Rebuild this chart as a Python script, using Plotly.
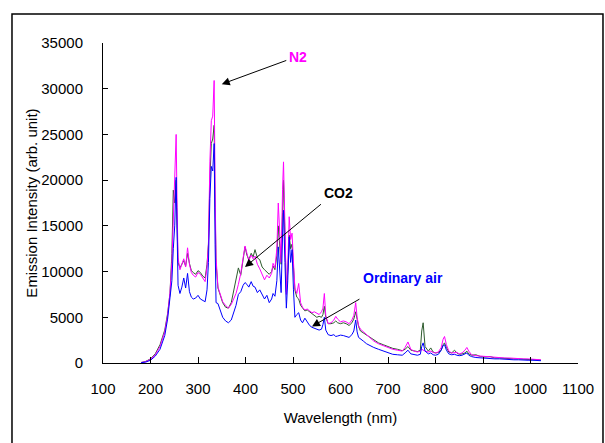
import plotly.graph_objects as go

wavelength = [180, 190, 200, 210, 220, 230, 236, 241, 245, 248, 251, 254, 256, 258, 262, 266, 270, 274, 278, 282,
              286, 290, 295, 300, 305, 310, 315, 319, 322, 325, 328, 331, 334, 336, 338, 342, 346, 352, 358, 364,
              370, 375, 380, 385, 390, 395, 399, 403, 407, 412, 416, 420, 425, 430, 435, 440, 445, 450, 455, 458,
              462, 466, 469, 472, 475, 478, 480, 483, 486, 489, 492, 495, 498, 501, 504, 508, 512, 516, 520, 525,
              530, 535, 540, 545, 550, 555, 560, 563, 566, 569, 574, 580, 586, 590, 594, 600, 606, 612, 618, 624,
              628, 632, 635, 638, 642, 648, 655, 662, 670, 680, 690, 700, 710, 720, 730, 736, 742, 748, 755, 762,
              768, 771, 774, 778, 785, 790, 795, 800, 806, 812, 816, 819, 823, 828, 834, 840, 845, 850, 856, 862,
              866, 870, 876, 885, 895, 905, 915, 925, 935, 945, 955, 965, 975, 985, 995, 1005, 1015, 1022]

co2 = [50, 180, 450, 1000, 2000, 3600, 5400, 7600, 12000, 18900, 17500, 20000, 15000, 11000, 10400, 10900, 11200, 10600, 12000, 10900,
       10100, 9900, 9700, 10100, 9900, 9500, 9300, 10800, 13000, 20000, 24000, 24500, 26000, 17000, 11000, 8200, 7500, 6600, 6100, 6000,
       6600, 7800, 9300, 10400, 9600, 11200, 12700, 11800, 11300, 12000, 11600, 12400, 11500, 11300, 10500, 10200, 9900, 9700, 10000, 10600,
       10200, 11800, 15000, 13000, 10800, 16500, 20000, 14000, 7800, 10000, 14000, 12500, 13000, 10500, 8000, 7200, 7000, 6300, 6000, 5700,
       5800, 5600, 5300, 5200, 5000, 5100, 5000, 5300, 6200, 5000, 4300, 4300, 4400, 4600, 4400, 4300, 4400, 4300, 4100, 4400,
       4800, 5600, 4700, 4000, 3500, 3300, 3000, 2800, 2500, 2200, 2000, 1800, 1600, 1500, 1350, 1500, 1800, 1400, 1300, 1250,
       1400, 3500, 4400, 1800, 1300, 1650, 1200, 1100, 1150, 1400, 2000, 2200, 1700, 1200, 1100, 1400, 1100, 950, 1000, 1100,
       1300, 1000, 850, 900, 700, 650, 700, 550, 550, 500, 500, 450, 450, 400, 400, 350, 350, 300]

n2 = [50, 150, 400, 900, 1800, 3400, 5200, 7700, 11000, 16000, 19500, 25000, 17000, 11500, 10200, 10800, 11400, 10500, 12600, 10800,
      9900, 9600, 9400, 9900, 9700, 9300, 8900, 10500, 13000, 22000, 26500, 27000, 30900, 19000, 11500, 8300, 7600, 6700, 6300, 6000,
      6400, 7000, 7600, 8600, 9800, 11500, 12800, 12000, 11200, 11800, 11400, 11700, 10800, 10300, 9700, 9100, 9600, 9300, 9800, 10900,
      10400, 12500, 17500, 14000, 11000, 19000, 22000, 15000, 7500, 10500, 16000, 13500, 14200, 11000, 8200, 7600, 8700, 6600, 6100, 5800,
      5900, 5700, 5500, 5600, 5400, 5300, 5600, 6000, 7600, 5200, 4300, 4400, 4700, 5100, 4800, 4500, 4600, 4500, 4300, 4700,
      5200, 6600, 5000, 4100, 3700, 3400, 3100, 2800, 2400, 2100, 1900, 1700, 1500, 1400, 1300, 1700, 2300, 1500, 1300, 1200,
      1300, 1500, 1400, 1300, 1200, 1300, 1150, 1100, 1200, 1700, 2600, 2900, 2000, 1300, 1100, 1100, 1150, 1000, 1100, 1400,
      1700, 1300, 900, 800, 750, 700, 650, 600, 600, 550, 550, 500, 500, 450, 450, 400, 400, 350]

air = [30, 100, 300, 750, 1500, 3000, 4800, 6900, 9000, 12500, 15000, 20300, 13000, 8500, 7600, 8300, 9300, 8200, 9800, 7800,
       7200, 7000, 7100, 7400, 7000, 6800, 6700, 8000, 11000, 18000, 21500, 21000, 24000, 13000, 6600, 6500, 5800, 5000, 4600, 4400,
       4700, 5600, 6300, 7500, 7800, 8500, 8800, 8600, 8300, 8900, 8400, 8300, 7700, 8000, 7400, 7000, 7400, 6600, 7000, 7600,
       7300, 9000, 12700, 10000, 7700, 14000, 16700, 11000, 6000, 9000, 13800, 11000, 12400, 8000, 5000, 5300, 5500, 4700, 4400, 4900,
       4500, 4100, 3900, 3800, 3700, 3600, 3700, 4200, 5000, 3600, 3100, 3000, 3100, 2900, 2950, 3050, 3000, 2900, 2800, 3100,
       3500, 4700, 3400, 2800, 2600, 2400, 2100, 1900, 1700, 1500, 1300, 1150, 950, 900, 850, 1100, 1400, 1000, 900, 850,
       950, 1800, 2200, 1300, 1000, 1100, 900, 850, 950, 1400, 1900, 2000, 1400, 1000, 900, 950, 850, 800, 850, 950,
       1100, 850, 700, 600, 550, 500, 500, 450, 450, 400, 400, 350, 350, 300, 300, 300, 280, 250]

x_ticks = [100, 200, 300, 400, 500, 600, 700, 800, 900, 1000, 1100]
y_ticks = [0, 5000, 10000, 15000, 20000, 25000, 30000, 35000]
y_tick_labels = ["0", "5000", "10000", "15000", "20000", "25000", "30000", "35000"]

FONT = "Liberation Sans, Arial, sans-serif"

fig = go.Figure()
fig.add_trace(go.Scatter(x=wavelength, y=co2, mode="lines", name="CO2",
                         line=dict(color="#2E5B2E", width=1)))
fig.add_trace(go.Scatter(x=wavelength, y=n2, mode="lines", name="N2",
                         line=dict(color="#FF00FF", width=1)))
fig.add_trace(go.Scatter(x=wavelength, y=air, mode="lines", name="Ordinary air",
                         line=dict(color="#0000FF", width=1)))

# arrows
arrows = [
    dict(x=350, y=30500, ax=489, ay=33150),
    dict(x=399, y=10500, ax=562, ay=17500),
    dict(x=540, y=4000, ax=643, ay=7080),
]
for a in arrows:
    fig.add_annotation(x=a["x"], y=a["y"], ax=a["ax"], ay=a["ay"], axref="x", ayref="y",
                       xref="x", yref="y", text="", showarrow=True,
                       arrowhead=2, arrowsize=1.6, arrowwidth=1, arrowcolor="black")

labels = [
    dict(x=511, y=33500, text="<b>N2</b>", color="#FF00FF"),
    dict(x=595, y=18600, text="<b>CO2</b>", color="black"),
    dict(x=732, y=9300, text="<b>Ordinary air</b>", color="#0000FF"),
]
for l in labels:
    fig.add_annotation(x=l["x"], y=l["y"], xref="x", yref="y", text=l["text"], showarrow=False,
                       font=dict(family=FONT, size=14, color=l["color"]))

# outer frame
fig.add_shape(type="rect", xref="paper", yref="paper", x0=-0.1916, x1=1.0526, y0=-0.3, y1=1.0906,
              line=dict(color="black", width=1.5), fillcolor="rgba(0,0,0,0)")

fig.update_layout(
    width=605, height=443,
    margin=dict(l=103, r=27, t=43, b=80),
    paper_bgcolor="white", plot_bgcolor="white",
    showlegend=False,
    font=dict(family=FONT, size=15, color="black"),
    xaxis=dict(range=[100, 1100], tickvals=x_ticks, ticks="inside", ticklen=6, tickcolor="black",
               showline=True, linecolor="black", linewidth=1, showgrid=False, zeroline=False,
               ticklabelstandoff=12,
               title=dict(text="Wavelength (nm)", font=dict(size=15), standoff=16),
               tickfont=dict(size=15)),
    yaxis=dict(range=[0, 35000], tickvals=y_ticks, ticktext=y_tick_labels, ticks="inside", ticklen=5,
               tickcolor="black",
               showline=True, linecolor="black", linewidth=1, showgrid=False, zeroline=False,
               ticklabelstandoff=16,
               title=dict(text="Emission Intensity (arb. unit)", font=dict(size=15), standoff=0),
               tickfont=dict(size=15)),
)

fig.write_html("out.html")
